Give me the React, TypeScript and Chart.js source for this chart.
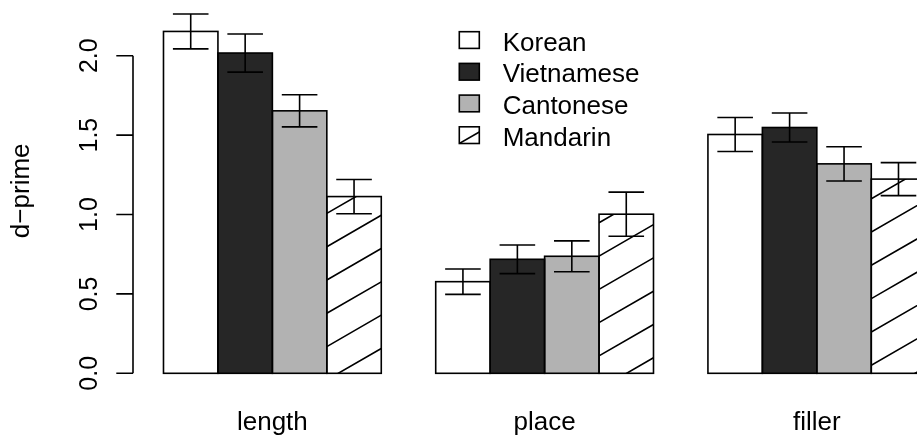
import React, { useEffect, useRef } from "react";
import { Chart, registerables } from "chart.js";

Chart.register(...registerables);

// ---------- data ----------
const CATEGORIES = ["length", "place", "filler"];
const GROUP_CENTERS = [3, 8, 13];
const SERIES = ["Korean", "Vietnamese", "Cantonese", "Mandarin"];
const KOREAN = [2.153, 0.577, 1.504];
const VIETNAMESE = [2.017, 0.718, 1.548];
const CANTONESE = [1.653, 0.737, 1.319];
const MANDARIN = [1.113, 1.002, 1.223];
const KOREAN_SE = [0.11, 0.08, 0.107];
const VIETNAMESE_SE = [0.12, 0.09, 0.091];
const CANTONESE_SE = [0.101, 0.097, 0.108];
const MANDARIN_SE = [0.108, 0.139, 0.104];
const Y_TICKS = [0, 0.5, 1, 1.5, 2];
const Y_TICK_LABELS = ["0.0", "0.5", "1.0", "1.5", "2.0"];
const Y_TITLE = "d\u2212prime";

const SERIES_VALUES = [KOREAN, VIETNAMESE, CANTONESE, MANDARIN];
const SERIES_SE = [KOREAN_SE, VIETNAMESE_SE, CANTONESE_SE, MANDARIN_SE];

// ---------- styles ----------
const W = 917;
const H = 436;
const FILLS = ["#ffffff", "#262626", "#b2b2b2", "#ffffff"];
const HATCHED = [false, false, false, true];
const LW = 1.6;
const FONT = '"Liberation Sans", Arial, Helvetica, sans-serif';
const LABEL_PX = 26;
const TICK_PX = 25;
const HATCH_TAN = Math.tan((30 * Math.PI) / 180);
const HATCH_SP = 33.3;
const HATCH_Y0 = 25.6;
const CAP = 17.8;

function hatchRect(ctx: CanvasRenderingContext2D, l: number, t: number, w: number, h: number, x0: number) {
  ctx.save();
  ctx.beginPath();
  ctx.rect(l, t, w, h);
  ctx.clip();
  const offL = HATCH_Y0 - (l - x0) * HATCH_TAN;
  const kmin = Math.floor((t - offL) / HATCH_SP) - 1;
  const kmax = Math.ceil((t + h + w * HATCH_TAN - offL) / HATCH_SP) + 1;
  ctx.beginPath();
  for (let k = kmin; k <= kmax; k++) {
    const yl = offL + k * HATCH_SP;
    ctx.moveTo(l, yl);
    ctx.lineTo(l + w, yl - w * HATCH_TAN);
  }
  ctx.strokeStyle = "#000";
  ctx.lineWidth = LW;
  ctx.stroke();
  ctx.restore();
}

const rPlugin = {
  id: "rstyle",
  afterDatasetsDraw(chart: any) {
    const ctx: CanvasRenderingContext2D = chart.ctx;
    const area = chart.chartArea;
    const ys = chart.scales.y;
    ctx.save();
    ctx.beginPath();
    ctx.rect(area.left, 0, area.right - area.left, H);
    ctx.clip();
    chart.data.datasets.forEach((_ds: any, i: number) => {
      const meta = chart.getDatasetMeta(i);
      meta.data.forEach((el: any, j: number) => {
        const { x, y, base, width } = el.getProps(["x", "y", "base", "width"], true);
        const l = x - width / 2;
        if (HATCHED[i]) hatchRect(ctx, l, y, width, base - y, area.left);
        ctx.strokeStyle = "#000";
        ctx.lineWidth = LW;
        ctx.strokeRect(l, y, width, base - y);
      });
    });
    // error bars
    chart.data.datasets.forEach((_ds: any, i: number) => {
      const meta = chart.getDatasetMeta(i);
      meta.data.forEach((el: any, j: number) => {
        const { x } = el.getProps(["x"], true);
        const v = SERIES_VALUES[i][j];
        const se = SERIES_SE[i][j];
        const yt = ys.getPixelForValue(v + se);
        const yb = ys.getPixelForValue(v - se);
        ctx.beginPath();
        ctx.moveTo(x, yt);
        ctx.lineTo(x, yb);
        ctx.moveTo(x - CAP, yt);
        ctx.lineTo(x + CAP, yt);
        ctx.moveTo(x - CAP, yb);
        ctx.lineTo(x + CAP, yb);
        ctx.strokeStyle = "#000";
        ctx.lineWidth = LW;
        ctx.stroke();
      });
    });
    ctx.restore();
  },
  afterDraw(chart: any) {
    const ctx: CanvasRenderingContext2D = chart.ctx;
    const area = chart.chartArea;
    const ys = chart.scales.y;
    const xs = chart.scales.x;
    ctx.save();
    ctx.strokeStyle = "#000";
    ctx.fillStyle = "#000";
    ctx.lineWidth = LW;
    // y axis
    const ax = area.left;
    ctx.beginPath();
    ctx.moveTo(ax, ys.getPixelForValue(Y_TICKS[0]));
    ctx.lineTo(ax, ys.getPixelForValue(Y_TICKS[Y_TICKS.length - 1]));
    Y_TICKS.forEach((t) => {
      const py = ys.getPixelForValue(t);
      ctx.moveTo(ax - 16.7, py);
      ctx.lineTo(ax, py);
    });
    ctx.stroke();
    ctx.font = `${TICK_PX}px ${FONT}`;
    ctx.textAlign = "center";
    ctx.textBaseline = "alphabetic";
    Y_TICKS.forEach((t, i) => {
      const py = ys.getPixelForValue(t);
      ctx.save();
      ctx.translate(96.5, py);
      ctx.rotate(-Math.PI / 2);
      ctx.fillText(Y_TICK_LABELS[i], 0, 0);
      ctx.restore();
    });
    // y title
    ctx.font = `${LABEL_PX}px ${FONT}`;
    ctx.save();
    ctx.translate(28.5, 190.8);
    ctx.rotate(-Math.PI / 2);
    ctx.fillText(Y_TITLE, 0, 0);
    ctx.restore();
    // category labels
    CATEGORIES.forEach((c, i) => {
      ctx.fillText(c, xs.getPixelForValue(GROUP_CENTERS[i]), 430);
    });
    // legend
    ctx.textAlign = "left";
    SERIES.forEach((s, i) => {
      const bx = 459.3;
      const by = 31.7 + i * 31.7;
      const bw = 20;
      const bh = 16.7;
      ctx.fillStyle = FILLS[i];
      ctx.fillRect(bx, by, bw, bh);
      if (HATCHED[i]) {
        ctx.save();
        ctx.beginPath();
        ctx.rect(bx, by, bw, bh);
        ctx.clip();
        ctx.beginPath();
        ctx.moveTo(bx, by + bh);
        ctx.lineTo(bx + bw, by + bh - bw * HATCH_TAN);
        ctx.stroke();
        ctx.restore();
      }
      ctx.strokeRect(bx, by, bw, bh);
      ctx.fillStyle = "#000";
      ctx.fillText(s, 502.7, 50.5 + i * 31.7);
    });
    ctx.restore();
  },
};

export default function App() {
  const ref = useRef<HTMLCanvasElement>(null);
  useEffect(() => {
    const canvas = ref.current!;
    const chart = new Chart(canvas, {
      type: "bar",
      data: {
        datasets: SERIES.map((name, i) => ({
          label: name,
          data: GROUP_CENTERS.map((c, j) => ({ x: c, y: SERIES_VALUES[i][j] })),
          backgroundColor: FILLS[i],
          borderWidth: 0,
          categoryPercentage: 0.8,
          barPercentage: 1,
        })),
      } as any,
      options: {
        responsive: false,
        animation: false,
        devicePixelRatio: 1,
        layout: { padding: { left: 133, right: 0, top: 0, bottom: 62.7 } },
        scales: {
          x: {
            type: "linear",
            min: 0.44,
            max: 14.84,
            offset: false,
            display: false,
            afterBuildTicks: (s: any) => {
              s.ticks = GROUP_CENTERS.map((v) => ({ value: v }));
            },
          },
          y: { type: "linear", min: 0, max: 2.351, display: false },
        },
        plugins: { legend: { display: false }, tooltip: { enabled: false } },
      } as any,
      plugins: [rPlugin],
    });
    return () => chart.destroy();
  }, []);
  return (
    <div style={{ position: "fixed", left: 0, top: 0, width: W, height: H, background: "#fff", overflow: "hidden" }}>
      <canvas ref={ref} width={W} height={H} style={{ display: "block", width: W, height: H }} />
    </div>
  );
}
